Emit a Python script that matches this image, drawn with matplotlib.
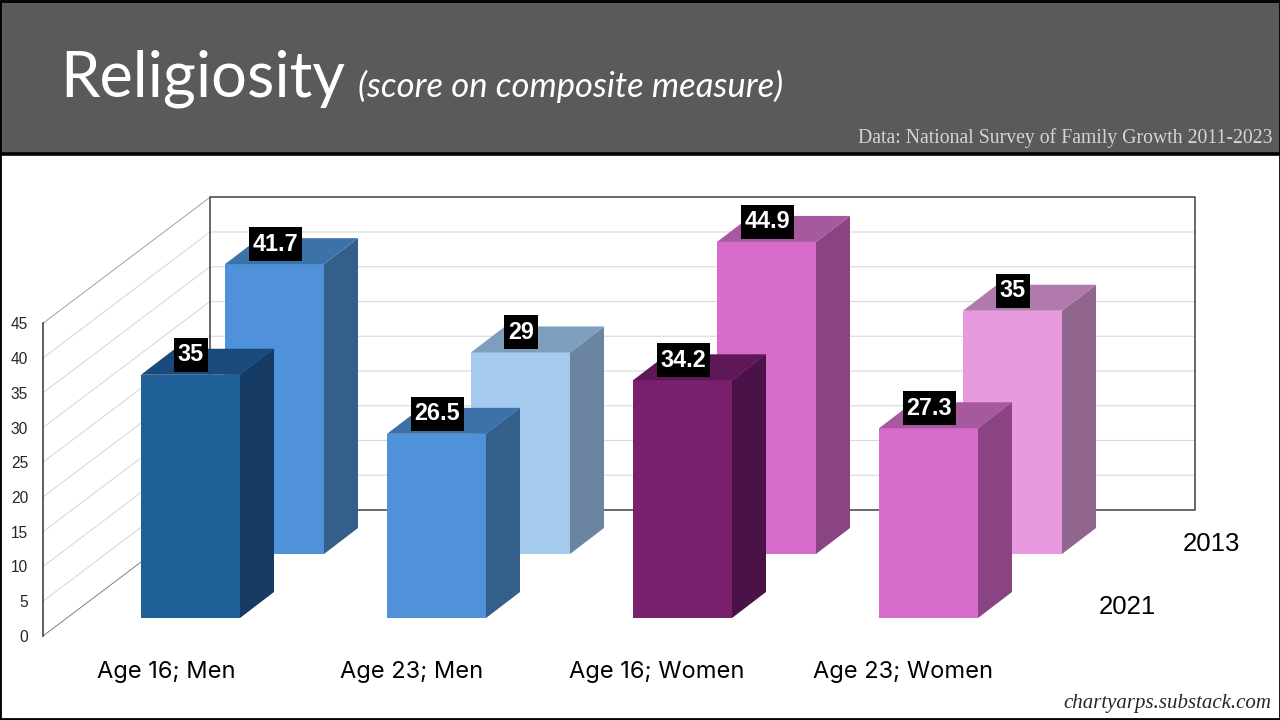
import matplotlib
matplotlib.use('Agg')
import matplotlib.pyplot as plt
from matplotlib.patches import Rectangle

# chart values
categories = ['Age 16; Men', 'Age 23; Men', 'Age 16; Women', 'Age 23; Women']
values_2021 = [35, 26.5, 34.2, 27.3]
values_2013 = [41.7, 29, 44.9, 35]
labels_2021 = ['35', '26.5', '34.2', '27.3']
labels_2013 = ['41.7', '29', '44.9', '35']
y_ticks = [0, 5, 10, 15, 20, 25, 30, 35, 40, 45]

# face colours: front, side, top
colors_2021 = [('#1F6098', '#153A63', '#1A4A7B'), ('#4F92D9', '#345F8B', '#3D72A9'),
               ('#7A216E', '#4B1247', '#5E1858'), ('#D76CCB', '#8A4481', '#A7599F')]
colors_2013 = [('#4F92D9', '#345F8B', '#3D72A9'), ('#A6CAEE', '#6B85A1', '#7F9DBD'),
               ('#D76CCB', '#8A4481', '#A7599F'), ('#E79ADD', '#90668F', '#B07BAC')]

PX_PER_UNIT = 6.95  # one score point in pixels
BASE_PX = 618       # where zero sits for the front row


def to_y(px):
    # pixel row -> y data units
    return (BASE_PX - px) / PX_PER_UNIT


fig = plt.figure(figsize=(12.8, 7.2), dpi=100, facecolor='white')
ax = fig.add_axes([0, 0, 1, 1])
ax.set_xlim(0, 1280)
ax.set_ylim(to_y(720), to_y(0))
ax.axis('off')

# header band and frame
ax.add_patch(Rectangle((0, to_y(153)), 1280, to_y(0) - to_y(153), color='#5A5A5A', lw=0, zorder=1))
ax.plot([0, 1280], [to_y(153.5)] * 2, color='black', lw=2.6, zorder=2)
ax.add_patch(Rectangle((0, to_y(719)), 1279.5, to_y(1) - to_y(719), fill=False, ec='black', lw=2, zorder=30))

ax.text(60, to_y(97), 'Religiosity', family=['Lato', 'Open Sans'], fontsize=45.5,
        color='white', va='baseline', zorder=3)
ax.text(358, to_y(97), '(score on composite measure)', family=['Lato', 'Open Sans'],
        style='italic', fontsize=24.9, color='white', va='baseline', zorder=3)
ax.text(1272, to_y(143), 'Data: National Survey of Family Growth 2011-2023', family='Liberation Serif',
        fontsize=14.2, color='#D4D4D4', ha='right', va='baseline', zorder=3)
ax.text(1271, to_y(708), 'chartyarps.substack.com', family='Liberation Serif', style='italic',
        fontsize=15, color='#262626', ha='right', va='baseline', zorder=3)

# walls of the 3d box
wall_lift = to_y(510)
front_lift = to_y(636)
wall_left, wall_right, front_left = 210, 1195, 43
for tick in y_ticks[1:-1]:
    ax.plot([front_left, wall_left, wall_right], [front_lift + tick, wall_lift + tick, wall_lift + tick],
            color='#D9D9D9', lw=0.8, zorder=4)
top = y_ticks[-1]
ax.plot([front_left, wall_left], [front_lift + top, wall_lift + top], color='#A0A0A0', lw=0.7, zorder=5)
ax.plot([front_left, wall_left], [front_lift, wall_lift], color='#808080', lw=0.7, zorder=5)
ax.plot([wall_left, wall_left, wall_right, wall_right, wall_left],
        [wall_lift, wall_lift + top, wall_lift + top, wall_lift, wall_lift], color='#404040', lw=1.1, zorder=5)
ax.plot([front_left, front_left], [front_lift, front_lift + top], color='#333333', lw=1.1, zorder=5)

for tick in y_ticks:
    ax.text(28, front_lift + tick - 1.5 / PX_PER_UNIT, str(tick), family='Liberation Sans', fontsize=11.2,
            color='#262626', ha='right', va='center', zorder=6)


def draw_row(values, labels, colors, xs, lift, z):
    width, dx = 99, 34
    dy = 26 / PX_PER_UNIT
    for x, v, lab, (front, side, roof) in zip(xs, values, labels, colors):
        t = lift + v
        ax.bar(x, v, width=width, bottom=lift, align='edge', color=front, lw=0, zorder=z + 1)
        ax.fill([x + width, x + width + dx, x + width + dx, x + width],
                [lift, lift + dy, t + dy, t], color=side, lw=0, zorder=z + 1)
        ax.fill([x, x + dx, x + width + dx, x + width],
                [t, t + dy, t + dy, t], color=roof, lw=0, zorder=z + 1)
        # black tag behind the value
        box_w = 53 if '.' in lab else 34
        mid = x + width / 2 + 0.5
        box_h = 34 / PX_PER_UNIT
        ax.add_patch(Rectangle((mid - box_w / 2, t + 20 / PX_PER_UNIT - box_h / 2), box_w, box_h,
                               color='black', lw=0, zorder=z + 2))
        ax.text(mid, t + 20 / PX_PER_UNIT, lab, family='Liberation Sans', weight='bold',
                fontsize=16.8, color='white', ha='center', va='center', zorder=z + 3)


# back row first so the front row sits over it
draw_row(values_2013, labels_2013, colors_2013, [225, 471, 717, 963], to_y(554), 10)
draw_row(values_2021, labels_2021, colors_2021, [141, 387, 633, 879], 0, 20)

for x, name in zip([166, 412, 657, 903], categories):
    ax.text(x, to_y(672), name, family='Inter', fontsize=17, color='black', ha='center', va='center', zorder=6)
ax.text(1183, to_y(544), '2013', family='Liberation Sans', fontsize=18.5, color='black', va='center', zorder=6)
ax.text(1099, to_y(607), '2021', family='Liberation Sans', fontsize=18.5, color='black', va='center', zorder=6)

fig.savefig('out.png', dpi=100)
